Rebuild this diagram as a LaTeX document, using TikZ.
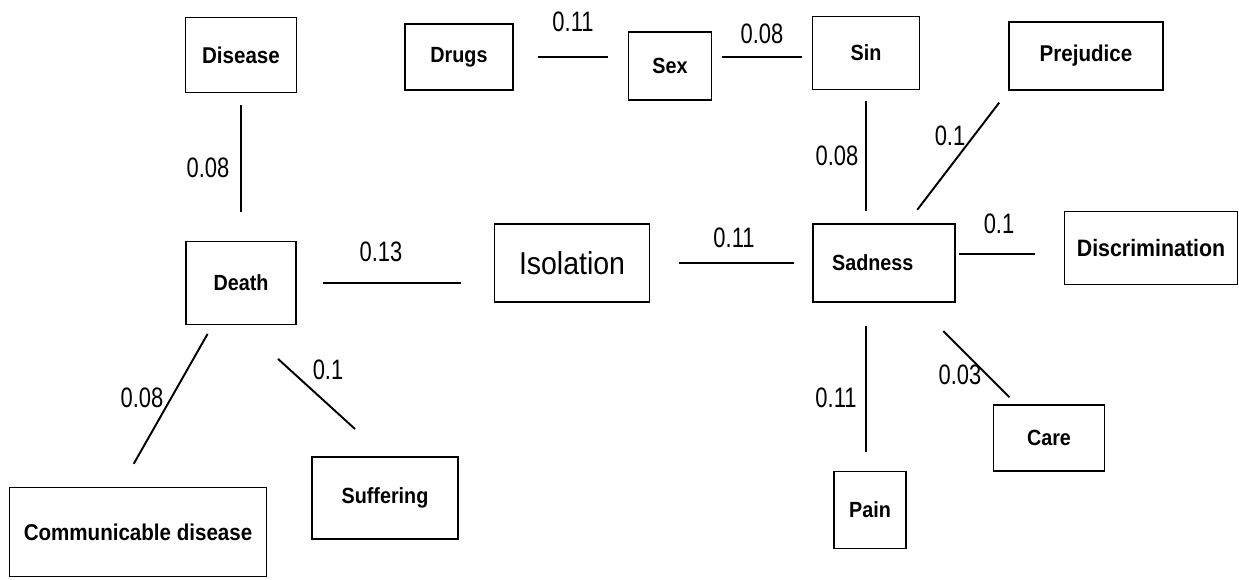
\documentclass[tikz,border=0pt]{standalone}
\usepackage{fontspec}
\setmainfont{Liberation Sans}
\newfontfamily\boxfont[FakeStretch=0.9]{Liberation Sans}
\newfontfamily\numfont[FakeStretch=0.78]{Liberation Sans}
\begin{document}
\begin{tikzpicture}[x=0.02cm, y=-0.02cm,
	box/.style={draw, line width=0.8pt, inner sep=0pt, font=\boxfont\bfseries\fontsize{12.5}{14}\selectfont},
	wt/.style={inner sep=0pt, font=\numfont\fontsize{16}{18}\selectfont},
	link/.style={line width=1.1pt}]
	\useasboundingbox (0, 0) rectangle (1239, 579);
	% concepts
	\node[box, minimum width=2.22cm, minimum height=1.5cm, font=\boxfont\bfseries\fontsize{13}{15}\selectfont] (disease) at (241, 55) {Disease};
	\node[box, minimum width=2.16cm, minimum height=1.32cm] (drugs) at (459, 57) {Drugs};
	\node[box, minimum width=1.66cm, minimum height=1.36cm] (sex) at (670, 66) {Sex};
	\node[box, minimum width=2.14cm, minimum height=1.46cm] (sin) at (866, 53) {Sin};
	\node[box, minimum width=3.08cm, minimum height=1.36cm, font=\boxfont\bfseries\fontsize{13}{15}\selectfont] (prejudice) at (1086, 56) {Prejudice};
	\node[box, minimum width=2.2cm, minimum height=1.66cm] (death) at (241, 283) {Death};
	\node[box, minimum width=3.1cm, minimum height=1.56cm, font=\boxfont\fontsize{18}{20}\selectfont] (isolation) at (572, 263) {Isolation};
	\node[box, minimum width=2.84cm, minimum height=1.56cm] (sadness) at (884, 263) {Sadness\rule{0.45cm}{0pt}};
	\node[box, minimum width=3.46cm, minimum height=1.46cm, font=\boxfont\bfseries\fontsize{13.5}{15}\selectfont] (discrimination) at (1151, 248) {Discrimination};
	\node[box, minimum width=2.22cm, minimum height=1.32cm] (care) at (1049, 438) {Care};
	\node[box, minimum width=1.44cm, minimum height=1.54cm] (pain) at (870, 510) {Pain};
	\node[box, minimum width=2.92cm, minimum height=1.64cm] (suffering) at (385, 498) {Suffering};
	\node[box, minimum width=5.14cm, minimum height=1.78cm, font=\boxfont\bfseries\fontsize{13}{15}\selectfont] (communicable) at (138, 532) {Communicable disease};
	% links
	\draw[link, shorten <=0.24cm, shorten >=0.58cm] (disease) -- (death);
	\draw[link, shorten <=0.52cm, shorten >=0.66cm] (death.east) -- (death.east -| isolation.west);
	\draw[link, shorten <=0.58cm, shorten >=0.36cm] (isolation) -- (sadness);
	\draw[link, shorten <=0.48cm, shorten >=0.4cm] (drugs.east) -- (drugs.east -| sex.west);
	\draw[link, shorten <=0.2cm, shorten >=0.2cm] (sex.east |- drugs) -- (sin.west |- drugs);
	\draw[link, shorten <=0.22cm, shorten >=0.24cm] (sin) -- (sin |- sadness.north);
	\draw[link, shorten <=0.34cm, shorten >=0.3cm] (sadness.60) -- (prejudice.south west);
	\draw[link, shorten <=0.06cm, shorten >=0.58cm] ([yshift=0.18cm]sadness.east) -- ([yshift=0.18cm]sadness.east -| discrimination.west);
	\draw[link, shorten <=0.8cm, shorten >=0.2cm] (sadness.-52) -- (care.134);
	\draw[link, shorten <=0.46cm, shorten >=0.38cm] (sin |- sadness.south) -- (sin |- pain.north);
	\draw[link, shorten <=0.2cm, shorten >=0.53cm] (death.-124) -- (communicable.111);
	\draw[link, shorten <=1.0cm, shorten >=0.81cm] (death.south) -- (suffering.north);
	% weights
	\node[wt] (w-disease) at (208, 168) {0.08};
	\node[wt] (w-isolation) at (381, 252) {0.13};
	\node[wt] (w-sadness) at (734, 238) {0.11};
	\node[wt] (w-drugs) at (573, 22) {0.11};
	\node[wt] (w-sex) at (762, 34) {0.08};
	\node[wt] (w-sin) at (837, 156) {0.08};
	\node[wt] (w-prejudice) at (950, 136) {0.1};
	\node[wt] (w-discrimination) at (999, 224) {0.1};
	\node[wt] (w-care) at (960, 375) {0.03};
	\node[wt] (w-pain) at (836, 398) {0.11};
	\node[wt] (w-communicable) at (142, 398) {0.08};
	\node[wt] (w-suffering) at (328, 370) {0.1};
\end{tikzpicture}
\end{document}
